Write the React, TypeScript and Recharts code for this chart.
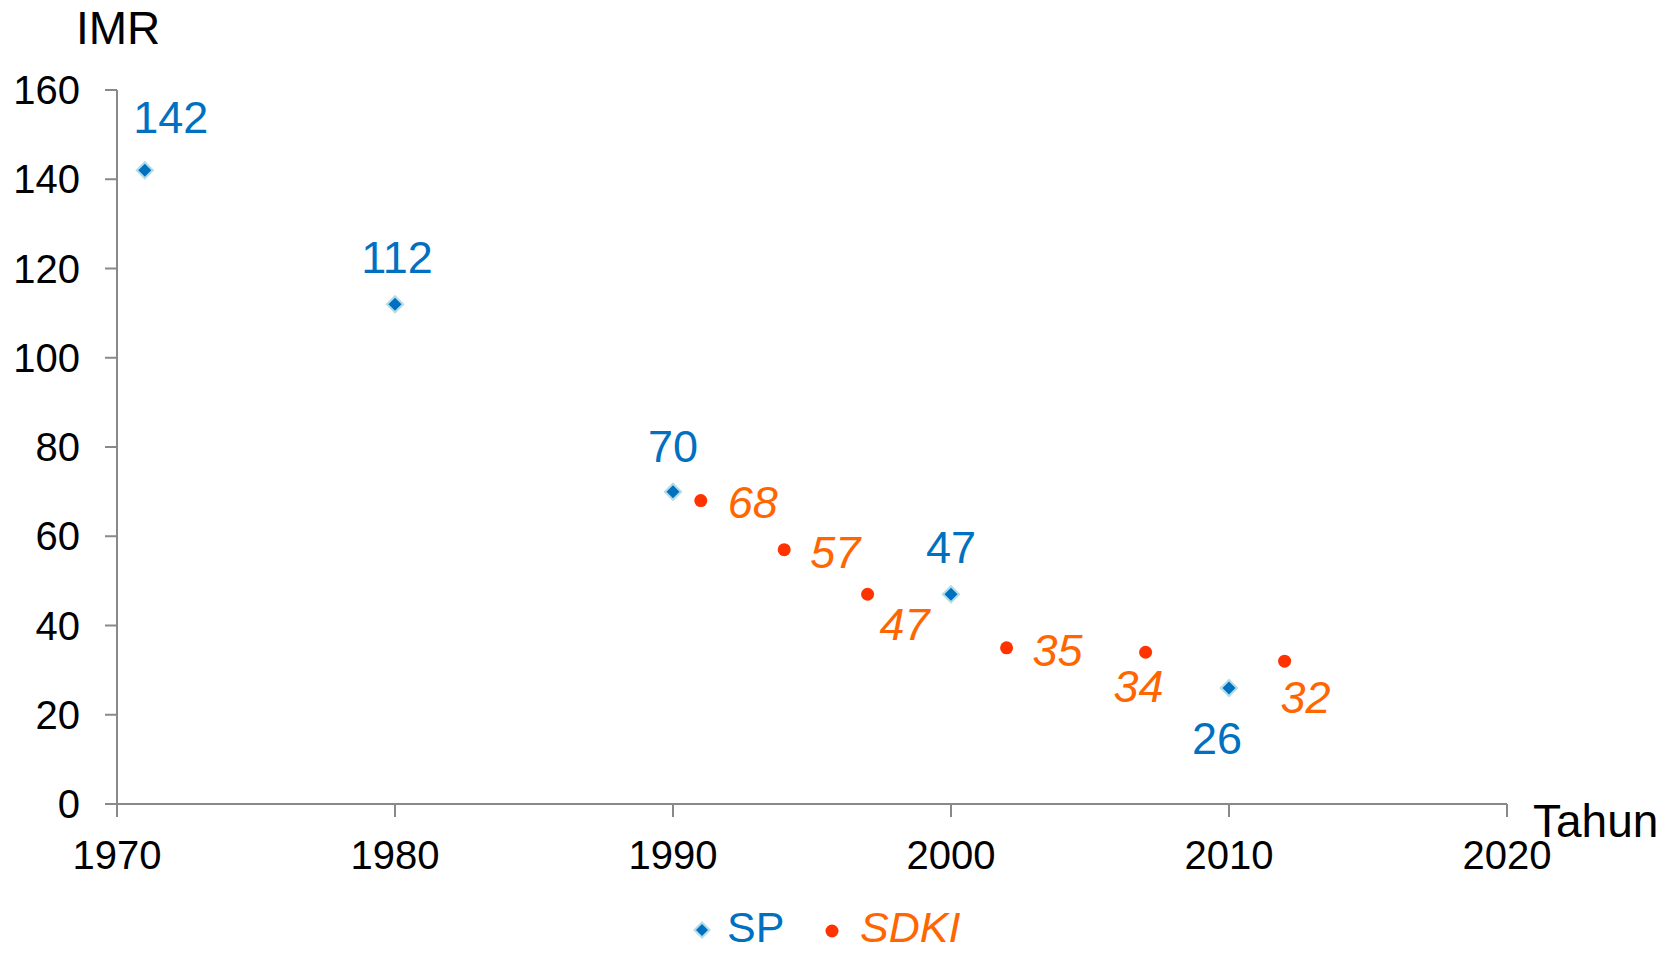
import { ScatterChart, Scatter, XAxis, YAxis } from 'recharts'

const spYears = [1971, 1980, 1990, 2000, 2010]
const spValues = [142, 112, 70, 47, 26]
const sdkiYears = [1991, 1994, 1997, 2002, 2007, 2012]
const sdkiValues = [68, 57, 47, 35, 34, 32]
const xTicks = [1970, 1980, 1990, 2000, 2010, 2020]
const yTicks = [0, 20, 40, 60, 80, 100, 120, 140, 160]

const SP_BLUE = '#0070C0'
const SP_EDGE = '#B4DCE6'
const SDKI_DOT = '#FF3300'
const SDKI_TEXT = '#FF6600'
const AXIS = '#898989'
const FONT = '"Liberation Sans", Arial, sans-serif'

// label placement relative to each point: [dx, dy to baseline, anchor]
const spLabelPos: [number, number, string][] = [
  [26, -37, 'middle'],
  [2, -31, 'middle'],
  [0, -30, 'middle'],
  [0, -31, 'middle'],
  [-12, 66, 'middle'],
]
const sdkiLabelPos: [number, number, string][] = [
  [27, 17, 'start'],
  [26, 18, 'start'],
  [12, 46, 'start'],
  [26, 18, 'start'],
  [-32, 50, 'start'],
  [-4, 52, 'start'],
]

const spData = spYears.map((year, i) => ({ year, imr: spValues[i], idx: i }))
const sdkiData = sdkiYears.map((year, i) => ({ year, imr: sdkiValues[i], idx: i }))

function Diamond({ cx, cy, outer = 9.5, inner = 6.5 }: { cx: number; cy: number; outer?: number; inner?: number }) {
  return (
    <g>
      <polygon points={`${cx},${cy - outer} ${cx + outer},${cy} ${cx},${cy + outer} ${cx - outer},${cy}`} fill={SP_EDGE} />
      <polygon points={`${cx},${cy - inner} ${cx + inner},${cy} ${cx},${cy + inner} ${cx - inner},${cy}`} fill={SP_BLUE} />
    </g>
  )
}

function SpShape(props: any) {
  const { cx, cy, payload } = props
  const [dx, dy, anchor] = spLabelPos[payload.idx]
  return (
    <g>
      <Diamond cx={cx} cy={cy} />
      <text x={cx + dx} y={cy + dy} textAnchor={anchor as any} fontSize={45} fill={SP_BLUE} fontFamily={FONT}>
        {payload.imr}
      </text>
    </g>
  )
}

function SdkiShape(props: any) {
  const { cx, cy, payload } = props
  const [dx, dy, anchor] = sdkiLabelPos[payload.idx]
  return (
    <g>
      <circle cx={cx} cy={cy} r={6.5} fill={SDKI_DOT} />
      <text
        x={cx + dx}
        y={cy + dy}
        textAnchor={anchor as any}
        fontSize={45}
        fontStyle="italic"
        fill={SDKI_TEXT}
        fontFamily={FONT}
      >
        {payload.imr}
      </text>
    </g>
  )
}

function Legend() {
  return (
    <svg width={400} height={66} style={{ position: 'absolute', left: 640, top: 888 }}>
      <Diamond cx={62} cy={42} outer={9} inner={6} />
      <text x={87} y={54} fontSize={43} fill={SP_BLUE} fontFamily={FONT}>
        SP
      </text>
      <circle cx={192} cy={43} r={6.5} fill={SDKI_DOT} />
      <text x={220} y={54} fontSize={43} fontStyle="italic" fill={SDKI_TEXT} fontFamily={FONT}>
        SDKI
      </text>
    </svg>
  )
}

export default function App() {
  return (
    <div style={{ position: 'absolute', left: 0, top: 0, width: 1677, height: 955, background: '#fff' }}>
      <ScatterChart width={1677} height={955} margin={{ top: 90, right: 170, bottom: 71, left: 17 }}>
        <XAxis
          type="number"
          dataKey="year"
          domain={[1970, 2020]}
          ticks={xTicks}
          height={80}
          tickSize={13}
          tickMargin={24}
          stroke={AXIS}
          strokeWidth={2}
          tick={{ fontSize: 40, fill: '#000', fontFamily: FONT }}
          label={(p: any) => {
            const vb = p.viewBox
            return (
              <text x={vb.x + vb.width + 26} y={vb.y + 33} fontSize={46} fill="#000" fontFamily={FONT}>
                Tahun
              </text>
            )
          }}
        />
        <YAxis
          type="number"
          dataKey="imr"
          domain={[0, 160]}
          ticks={yTicks}
          width={100}
          tickSize={12}
          tickMargin={25}
          stroke={AXIS}
          strokeWidth={2}
          tick={{ fontSize: 40, fill: '#000', fontFamily: FONT }}
          label={(p: any) => {
            const vb = p.viewBox
            return (
              <text x={vb.x + vb.width - 41} y={vb.y - 46} fontSize={46} fill="#000" fontFamily={FONT}>
                IMR
              </text>
            )
          }}
        />
        <Scatter name="SP" data={spData} shape={SpShape} isAnimationActive={false} />
        <Scatter name="SDKI" data={sdkiData} shape={SdkiShape} isAnimationActive={false} />
      </ScatterChart>
      <Legend />
    </div>
  )
}
